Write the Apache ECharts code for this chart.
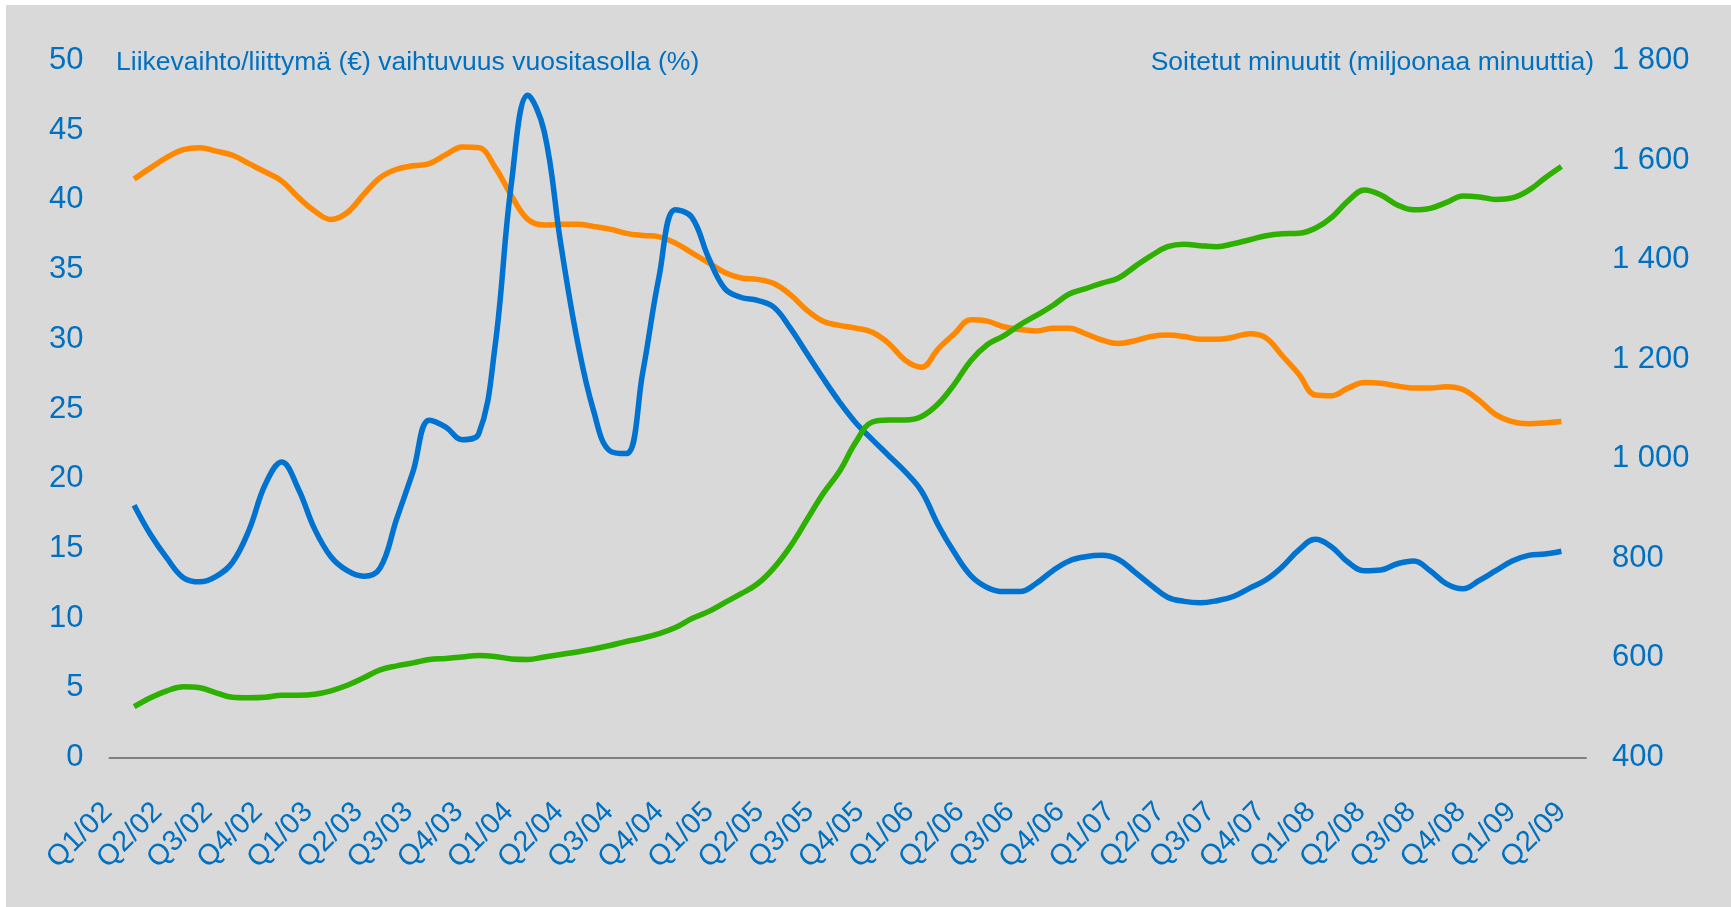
<!DOCTYPE html>
<html>
<head>
<meta charset="utf-8">
<script src="https://cdn.jsdelivr.net/npm/echarts@6/dist/echarts.min.js"></script>
<style>
  html, body { margin: 0; padding: 0; background: #ffffff; }
  #chart { position: absolute; left: 6px; top: 5px; width: 1725px; height: 902px; }
</style>
</head>
<body>
<div id="chart"></div>
<script>
// quarter tick labels, each quarter holds three months
const quarters = ['Q1/02','Q2/02','Q3/02','Q4/02','Q1/03','Q2/03','Q3/03','Q4/03',
  'Q1/04','Q2/04','Q3/04','Q4/04','Q1/05','Q2/05','Q3/05','Q4/05',
  'Q1/06','Q2/06','Q3/06','Q4/06','Q1/07','Q2/07','Q3/07','Q4/07',
  'Q1/08','Q2/08','Q3/08','Q4/08','Q1/09','Q2/09'];

// monthly values, from the 2nd month of Q1/02 on
const liikevaihto = [41.5,42.3,43.05,43.6,43.75,43.5,43.2,42.6,42.0,41.35,40.2,39.2,38.6,39.1,40.4,41.6,
  42.2,42.45,42.6,43.25,43.8,43.75,42.35,40.3,38.6,38.2,38.25,38.25,38.1,37.9,37.6,37.45,37.35,36.9,
  36.2,35.5,34.8,34.4,34.3,34.0,33.2,32.1,31.3,31.0,30.8,30.5,29.7,28.5,28.0,29.3,30.4,31.4,31.3,30.9,
  30.7,30.6,30.8,30.8,30.4,29.95,29.7,29.9,30.2,30.3,30.2,30.0,30.0,30.15,30.4,30.1,28.8,27.5,26.0,
  25.95,26.5,26.9,26.85,26.65,26.5,26.5,26.6,26.4,25.6,24.6,24.1,23.95,24.0,24.1];

const vaihtuvuus = [18.1,16.0,14.3,12.9,12.6,13.0,14.0,16.3,19.6,21.2,19.3,16.4,14.4,13.4,13.0,13.6,
  17.1,20.5,24.2,23.7,22.8,23.2,29.5,41.2,47.5,44.9,36.9,30.0,24.9,22.0,21.8,27.6,34.5,39.3,
  38.75,35.9,33.65,33.0,32.8,32.3,30.8,29.0,27.2,25.5,24.0,22.8,21.65,20.5,19.1,16.7,14.7,13.05,12.2,
  11.9,11.9,12.5,13.4,14.1,14.4,14.5,14.2,13.3,12.35,11.5,11.2,11.1,11.25,11.55,12.15,12.75,13.7,14.9,
  15.65,15.1,14.0,13.4,13.45,13.9,14.1,13.4,12.45,12.1,12.7,13.4,14.1,14.5,14.6,14.8];

const minuutit = [502,520,534,542,540,530,521,520,521,525,525,527,534,545,560,576,
  584,590,597,599,602,605,603,598,597,602,607,612,618,625,633,640,649,661,
  679,693,711,729,749,781,824,877,930,975,1034,1074,1078,1078,1085,1110,1150,1197,1229,
  1247,1269,1288,1308,1331,1342,1353,1363,1386,1408,1426,1431,1428,1426,1432,1440,1448,1452,1453,
  1463,1485,1518,1540,1530,1510,1500,1503,1515,1528,1526,1521,1524,1539,1564,1587];

const months = [];
quarters.forEach(q => { months.push(q + '-1', q + '-2', q + '-3'); });

const blue = '#0070c0';
const font = "'Liberation Sans', Arial, sans-serif";

let chart = echarts.init(document.getElementById('chart'));
option = {
    backgroundColor: '#d9d9d9',
    animation: false,
    textStyle: { fontFamily: font },
    grid: [
        { left: 103.5, top: 55.5, width: 1476.5, height: 697 },
        // label strip for the quarter names
        { left: 101.7, top: 55.5, width: 1453.9, height: 697 }
    ],
    graphic: [
        {
            type: 'text', left: 110, top: 44,
            style: { text: 'Liikevaihto/liittymä (€) vaihtuvuus vuositasolla (%)', fill: blue, font: '26.5px ' + font }
        },
        {
            type: 'text', right: 137, top: 44,
            style: { text: 'Soitetut minuutit (miljoonaa minuuttia)', fill: blue, font: '26.5px ' + font }
        }
    ],
    xAxis: [
        {
            type: 'category',
            boundaryGap: true,
            data: months,
            axisTick: { show: false },
            axisLine: { lineStyle: { color: '#808080', width: 2 } },
            axisLabel: { show: false },
            splitLine: { show: false }
        },
        {
            type: 'category',
            gridIndex: 1,
            boundaryGap: false,
            data: quarters,
            axisTick: { show: false },
            axisLine: { show: false },
            splitLine: { show: false },
            axisLabel: {
                interval: 0,
                rotate: 45,
                margin: 50,
                fontSize: 29,
                color: blue
            }
        }
    ],
    yAxis: [
        {
            type: 'value', min: 0, max: 50, interval: 5,
            axisLine: { show: false }, axisTick: { show: false }, splitLine: { show: false },
            axisLabel: { fontSize: 31, color: blue, margin: 26, padding: [10, 0, 0, 0] }
        },
        {
            type: 'value', min: 400, max: 1800, interval: 200,
            axisLine: { show: false }, axisTick: { show: false }, splitLine: { show: false },
            axisLabel: {
                fontSize: 31, color: blue, margin: 26, padding: [10, 0, 0, 0],
                formatter: v => String(v).replace(/\B(?=(\d{3})+(?!\d))/g, ' ')
            }
        },
        { type: 'value', gridIndex: 1, show: false }
    ],
    series: [
        {
            name: 'Liikevaihto/liittymä (€)',
            type: 'line', smooth: 0.4, symbol: 'none',
            lineStyle: { color: '#ff8800', width: 5.5 },
            data: [null].concat(liikevaihto)
        },
        {
            name: 'vaihtuvuus vuositasolla (%)',
            type: 'line', smooth: 0.4, symbol: 'none',
            lineStyle: { color: '#0072d0', width: 5.5 },
            data: [null].concat(vaihtuvuus)
        },
        {
            name: 'Soitetut minuutit (miljoonaa minuuttia)',
            type: 'line', smooth: 0.4, symbol: 'none', yAxisIndex: 1,
            lineStyle: { color: '#2eb000', width: 5.5 },
            data: [null].concat(minuutit)
        }
    ]
};
chart.setOption(option);
</script>
</body>
</html>
